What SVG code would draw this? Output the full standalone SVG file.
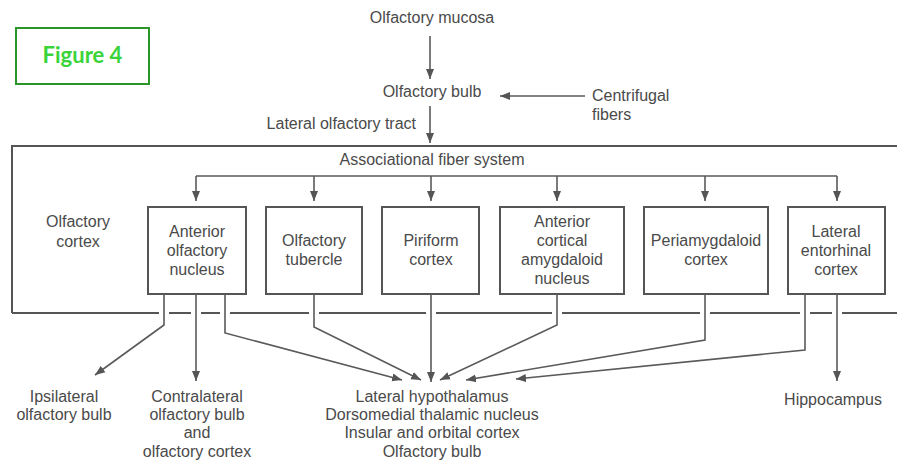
<svg xmlns="http://www.w3.org/2000/svg" width="897" height="461" viewBox="0 0 897 461">
<defs>
<style>
text{font-family:"Liberation Sans",Arial,sans-serif;font-size:16px;fill:#4a4a4a;text-anchor:middle}
.ln{fill:none;stroke:#5a5a5a;stroke-width:1.6}
.box{fill:none;stroke:#555;stroke-width:2}
.st{text-anchor:start}
.en{text-anchor:end}
</style>
<marker id="ah" markerUnits="userSpaceOnUse" markerWidth="10" markerHeight="10" viewBox="0 0 10 10" refX="10" refY="5" orient="auto">
<path d="M0,1 L10,5 L0,9 Z" fill="#555"/>
</marker>
</defs>
<rect width="897" height="461" fill="#fff"/>

<g id="figure-label">
<rect x="16" y="28" width="133" height="56" fill="#fff" stroke="#2a962a" stroke-width="2"/>
<text x="82.5" y="63" style="font-family:Lato,'Open Sans',sans-serif;font-weight:bold;font-size:22px;fill:#3ad43a">Figure 4</text>
</g>

<g id="cortex-frame">
<path class="box" d="M897,146 H12 V313"/>
<path class="box" d="M12,313 H159 M169,313 H191 M201,313 H220 M230,313 H309 M319,313 H426 M436,313 H552 M562,313 H700 M710,313 H800 M810,313 H832 M842,313 H897"/>
<text x="78" y="227">Olfactory</text>
<text x="78" y="247">cortex</text>
</g>

<g id="n-mucosa"><text x="432" y="23">Olfactory mucosa</text></g>
<g id="n-bulb"><text x="432" y="97">Olfactory bulb</text></g>
<g id="n-centrifugal"><text class="st" x="592" y="101">Centrifugal</text><text class="st" x="592" y="120">fibers</text></g>
<g id="n-lot"><text class="en" x="416" y="129">Lateral olfactory tract</text></g>
<g id="n-afs"><text x="432" y="165">Associational fiber system</text></g>

<g id="n-aon"><rect class="box" x="148" y="207" width="98" height="87"/><text x="197" y="237">Anterior</text><text x="197" y="256">olfactory</text><text x="197" y="275">nucleus</text></g>
<g id="n-ot"><rect class="box" x="266" y="207" width="96" height="87"/><text x="314" y="246">Olfactory</text><text x="314" y="265">tubercle</text></g>
<g id="n-pc"><rect class="box" x="382" y="207" width="97" height="87"/><text x="431" y="246">Piriform</text><text x="431" y="265">cortex</text></g>
<g id="n-acan"><rect class="box" x="500" y="207" width="124" height="87"/><text x="562" y="227">Anterior</text><text x="562" y="246">cortical</text><text x="562" y="265">amygdaloid</text><text x="562" y="284">nucleus</text></g>
<g id="n-pac"><rect class="box" x="644" y="207" width="124" height="87"/><text x="706" y="246">Periamygdaloid</text><text x="706" y="265">cortex</text></g>
<g id="n-lec"><rect class="box" x="788" y="207" width="97" height="87"/><text x="836" y="237">Lateral</text><text x="836" y="256">entorhinal</text><text x="836" y="275">cortex</text></g>

<g id="n-ipsi"><text x="64" y="402">Ipsilateral</text><text x="64" y="420">olfactory bulb</text></g>
<g id="n-contra"><text x="197" y="402">Contralateral</text><text x="197" y="420">olfactory bulb</text><text x="197" y="438">and</text><text x="197" y="457">olfactory cortex</text></g>
<g id="n-targets"><text x="432" y="402">Lateral hypothalamus</text><text x="432" y="420">Dorsomedial thalamic nucleus</text><text x="432" y="438">Insular and orbital cortex</text><text x="432" y="457">Olfactory bulb</text></g>
<g id="n-hippo"><text x="833" y="405">Hippocampus</text></g>

<g id="connectors">
<path class="ln" d="M430,36 V79" marker-end="url(#ah)"/>
<path class="ln" d="M585,96 H500" marker-end="url(#ah)"/>
<path class="ln" d="M430,106 V143" marker-end="url(#ah)"/>
<path class="ln" d="M196,176 H837"/>
<path class="ln" d="M196,176 V201" marker-end="url(#ah)"/>
<path class="ln" d="M314,176 V201" marker-end="url(#ah)"/>
<path class="ln" d="M431,176 V201" marker-end="url(#ah)"/>
<path class="ln" d="M557,176 V201" marker-end="url(#ah)"/>
<path class="ln" d="M705,176 V201" marker-end="url(#ah)"/>
<path class="ln" d="M837,176 V201" marker-end="url(#ah)"/>
<path class="ln" d="M164,294 V325 L95,375" marker-end="url(#ah)"/>
<path class="ln" d="M196,294 V381" marker-end="url(#ah)"/>
<path class="ln" d="M225,294 V333 L402,380" marker-end="url(#ah)"/>
<path class="ln" d="M314,294 V327 L421,380" marker-end="url(#ah)"/>
<path class="ln" d="M431,294 V382" marker-end="url(#ah)"/>
<path class="ln" d="M557,294 V325 L440,380" marker-end="url(#ah)"/>
<path class="ln" d="M705,294 V340 L466,380" marker-end="url(#ah)"/>
<path class="ln" d="M805,294 V350 L516,379" marker-end="url(#ah)"/>
<path class="ln" d="M837,294 V381" marker-end="url(#ah)"/>
</g>
</svg>
